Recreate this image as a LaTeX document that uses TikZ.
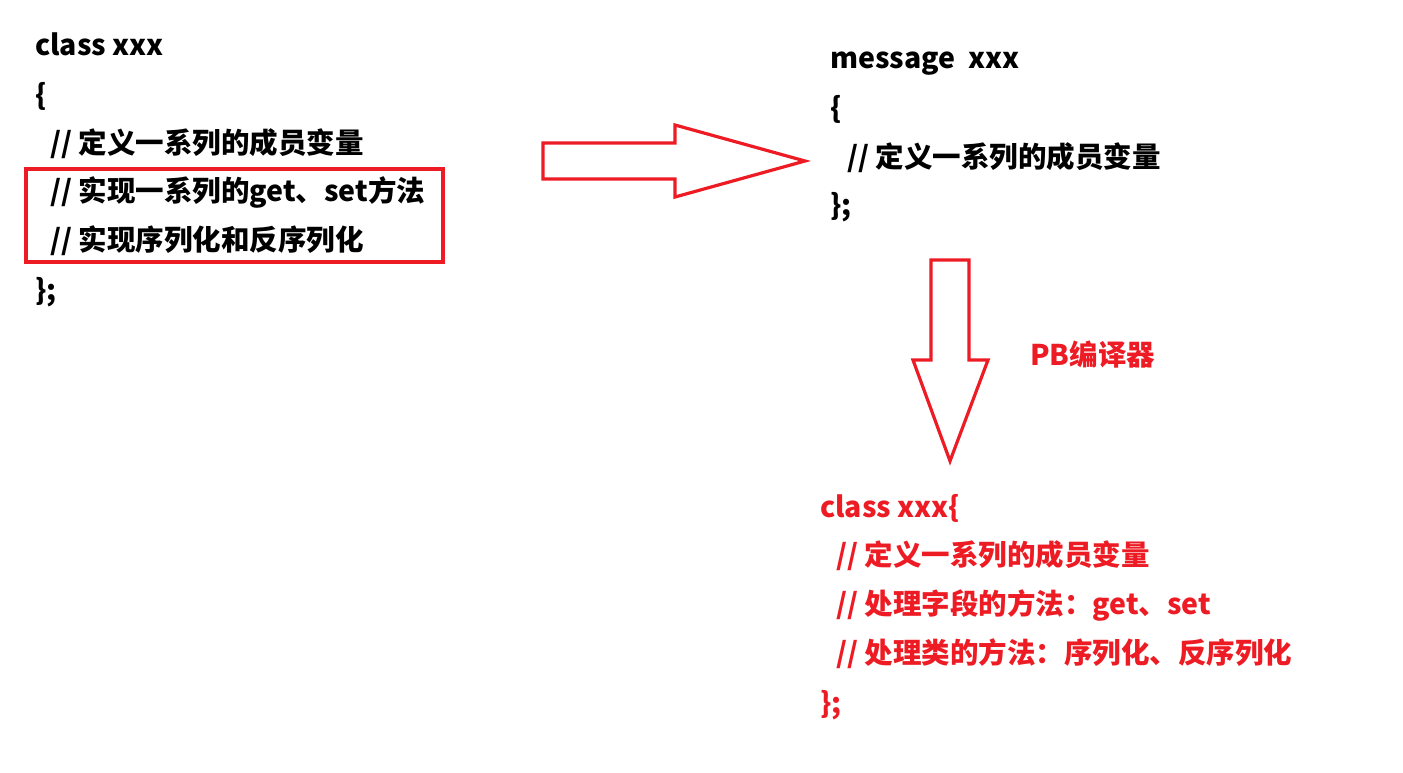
\documentclass[tikz,border=0pt]{standalone}
\usepackage{fontspec}
\setmainfont{Noto Sans CJK SC}
\definecolor{pred}{HTML}{ED1C24}
\begin{document}
\begin{tikzpicture}[x=1pt,y=-1pt,
  txt/.style={anchor=base west,inner sep=0pt,font=\fontsize{28.5}{32}\selectfont\bfseries},
  rtxt/.style={txt,text=pred},
  outline/.style={draw=pred,line width=3.2pt,line join=miter}]
\useasboundingbox (0,0) rectangle (1403,772);
% left block
\node[txt] (l1) at (35,55) {class xxx};
\node[txt] (l2) at (35,105) {\{};
\node[txt] (l3) at (50,153) {// 定义一系列的成员变量};
\node[txt] (l4) at (50,201) {// 实现一系列的get、set方法};
\node[txt] (l5) at (50,250) {// 实现序列化和反序列化};
\node[txt] (l6) at (35,300) {\};};
\draw[outline] (26,169) rectangle (443,262);
% right arrow
\draw[outline] (543,143) -- (675,143) -- (675,125) -- (805,161) -- (675,197) -- (675,179) -- (543,179) -- cycle;
% top right block
\node[txt] (m1) at (830,68) {message\ \ xxx};
\node[txt] (m2) at (830,118) {\{};
\node[txt] (m3) at (847,167) {// 定义一系列的成员变量};
\node[txt] (m4) at (830,215) {\};};
% down arrow
\draw[outline] (931,260) -- (969,260) -- (969,360) -- (988,360) -- (950,461) -- (913,360) -- (931,360) -- cycle;
\node[rtxt] (pb) at (1030,365) {PB编译器};
% bottom block
\node[rtxt] (c1) at (820,517) {class xxx\{};
\node[rtxt] (c2) at (836,565) {// 定义一系列的成员变量};
\node[rtxt] (c3) at (836,614) {// 处理字段的方法：get、set};
\node[rtxt] (c4) at (836,663) {// 处理类的方法：序列化、反序列化};
\node[rtxt] (c5) at (820,713) {\};};
\end{tikzpicture}
\end{document}
